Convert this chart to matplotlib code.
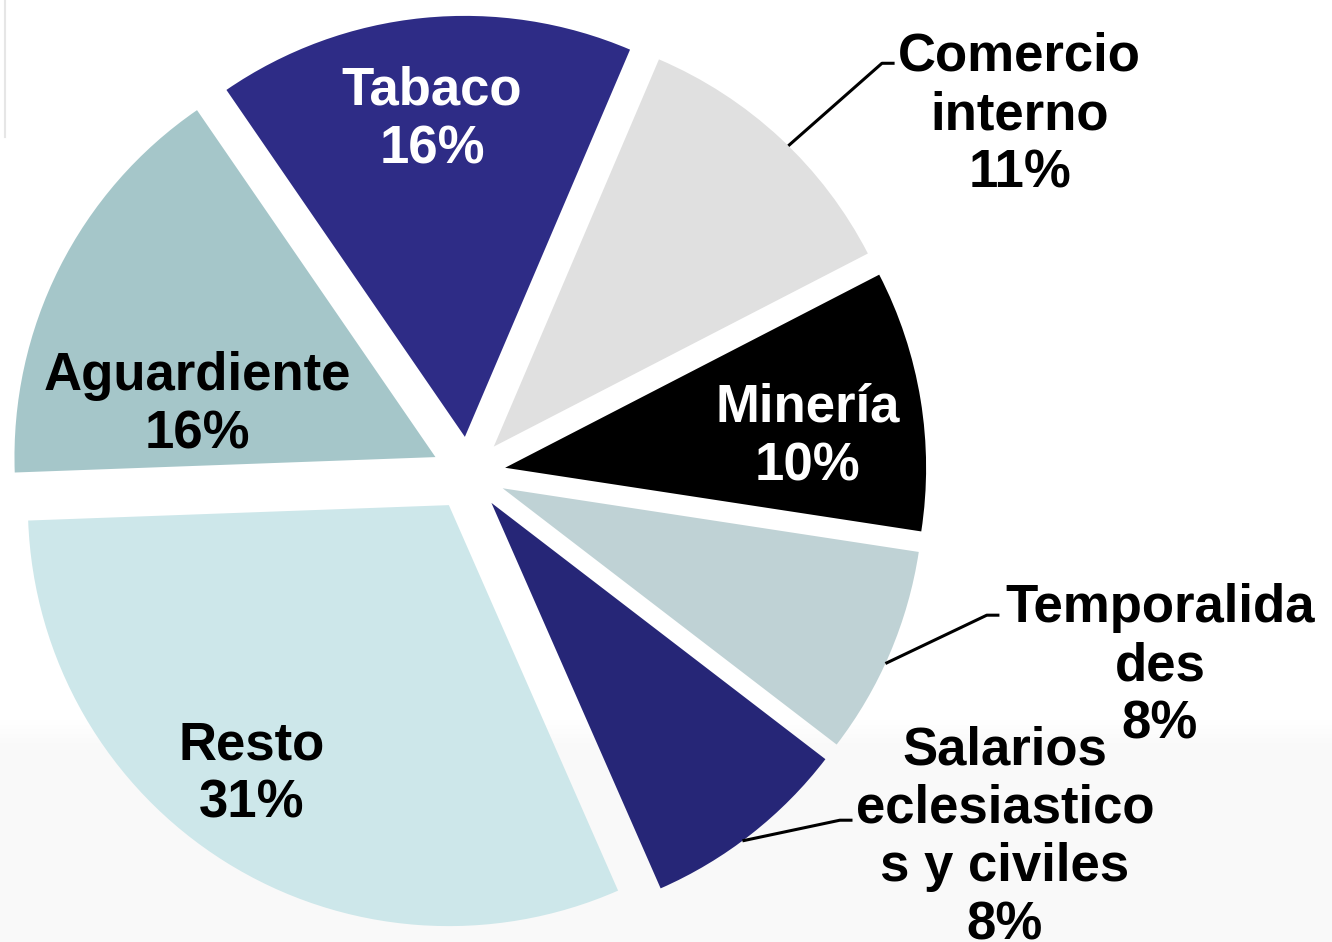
import numpy as np
import matplotlib.pyplot as plt

plt.rcParams['font.family'] = ['Liberation Sans', 'DejaVu Sans']

# data (clockwise from the top)
sectores = ['Tabaco', 'Comercio\ninterno', 'Minería', 'Temporalida\ndes',
            'Salarios\neclesiastico\ns y civiles', 'Resto', 'Aguardiente']
porcentajes = [16, 11, 10, 8, 8, 31, 16]
colores = ['#2E2C86', '#E0E0E0', '#000000', '#BFD2D5', '#262677', '#CDE7EA', '#A5C6C9']
color_texto = ['white', 'black', 'white', 'black', 'black', 'black', 'black']

# label centres (data units, pie radius = 1) and leader elbows (None = inside label)
pos_texto = [(-0.087, 0.840), (1.309, 0.852), (0.806, 0.087), (1.642, -0.457),
             (1.274, -0.865), (-0.515, -0.714), (-0.643, 0.162)]
codo = [None, (0.982, 0.975), None, (1.231, -0.336), (0.882, -0.823), None, None]

fig = plt.figure(figsize=(13.32, 9.42), dpi=100)

# faint slide background: slight grey towards the bottom
bg = fig.add_axes([0, 0, 1, 1], zorder=-2)
grad = np.ones((942, 1))
grad[745:] = 0.975
grad[715:745] = np.linspace(1.0, 0.975, 30)[:, None]
bg.imshow(grad, aspect='auto', cmap='gray', vmin=0, vmax=1, extent=[0, 1, 0, 1])
bg.plot([0.004, 0.004], [0.855, 1.0], color='#E6E6E6', lw=1.5)
bg.set_xlim(0, 1)
bg.set_ylim(0, 1)
bg.axis('off')

ax = fig.add_axes([0, 0, 1, 1])
explode = [0.088] * len(porcentajes)
wedges, _ = ax.pie(porcentajes, colors=colores, explode=explode, startangle=124.5,
                   counterclock=False, wedgeprops=dict(linewidth=0))

for i, w in enumerate(wedges):
    txt = f'{sectores[i]}\n{porcentajes[i]}%'
    ax.text(pos_texto[i][0], pos_texto[i][1], txt, ha='center', va='center',
            fontsize=38, fontweight='bold', color=color_texto[i],
            linespacing=1.22, clip_on=False)
    if codo[i] is not None:
        ang = np.deg2rad((w.theta1 + w.theta2) / 2 - 1.5)
        cx, cy = w.center
        x0, y0 = cx + np.cos(ang), cy + np.sin(ang)
        ex, ey = codo[i]
        ax.plot([x0, ex, ex + 0.03], [y0, ey, ey], color='black', lw=2.2,
                solid_capstyle='butt')

ax.set_xlim(-1.113, 2.051)
ax.set_ylim(-1.112, 1.125)
ax.set_aspect('equal')
ax.axis('off')

fig.savefig('out.png', dpi=100)
